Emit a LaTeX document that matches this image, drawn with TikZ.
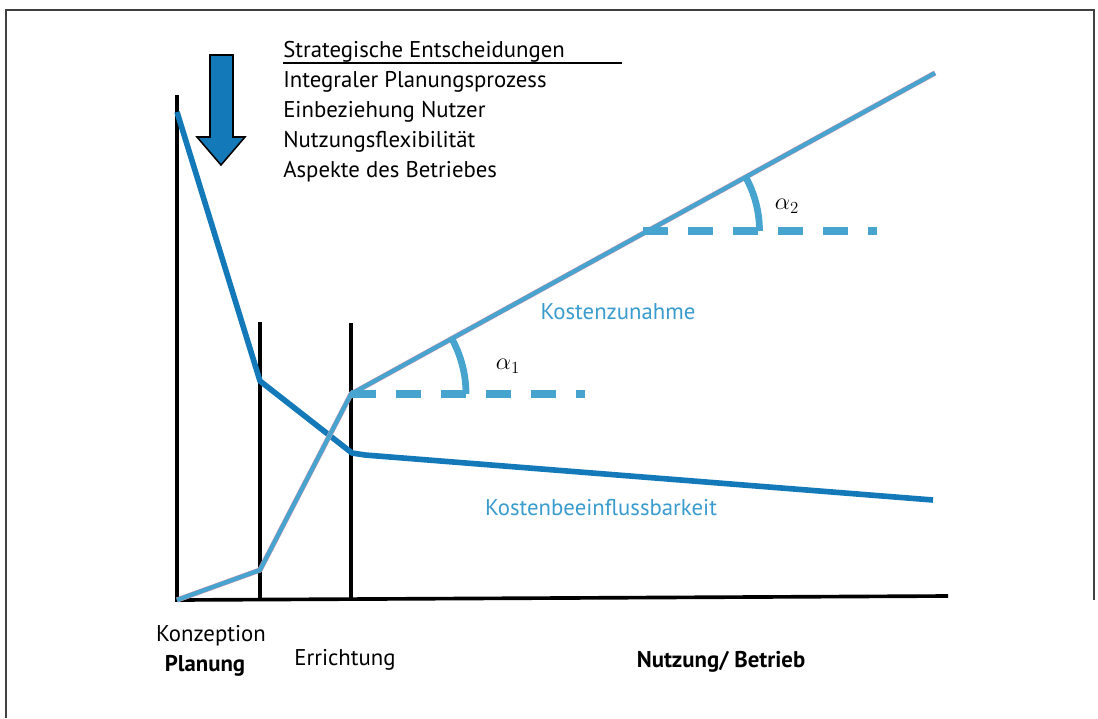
\documentclass[tikz,border=0pt]{standalone}
\usepackage{fontspec}
\setmainfont{PT Sans}
\usepackage{tikz, amsmath}
\usetikzlibrary{positioning}

\definecolor{fallblue}{RGB}{20,121,184}
\definecolor{riseblue}{RGB}{70,164,207}
\definecolor{riseedge}{RGB}{205,150,175}
\definecolor{labelblue}{RGB}{58,156,206}

\tikzset{
	phase/.style={line width=2.6pt, black},
	rise/.style={line width=3pt, riseblue, line join=round, preaction={draw, riseedge, line width=3.7pt, line join=round}},
	fall/.style={line width=4pt, fallblue, line join=round},
	level/.style={line width=5pt, riseblue, dash pattern=on 6.25mm off 5mm},
	wedge/.style={line width=4.8pt, riseblue},
	listtext/.style={anchor=base west, inner sep=0pt, font=\fontsize{16.2}{18}\selectfont},
	curvelabel/.style={text=labelblue, inner sep=0pt, font=\fontsize{16.2}{18}\selectfont},
	phaselabel/.style={inner sep=0pt, font=\fontsize{16.2}{18}\selectfont}
}

\begin{document}
\begin{tikzpicture}[x=0.25mm, y=-0.25mm]

	\useasboundingbox (0,0) rectangle (1098,718);

	% frame
	\draw[line width=1.4pt, black!75] (6,718) -- (6,10) -- (1094,10) -- (1094,600);

	% points of the two curves
	\coordinate (origin) at (177,600);
	\coordinate (risea) at (260,570);
	\coordinate (riseb) at (351,394);
	\coordinate (riseend) at (935,73);
	\coordinate (falltop) at (177,112);
	\coordinate (falla) at (260,381);
	\coordinate (fallb) at (352,453);
	\coordinate (fallend) at (933,500);
	\coordinate (axisend) at (948,596);

	% axes and phase borders
	\draw[phase] (177,95) -- (origin) -- (axisend);
	\foreach \x/\top in {260/322, 351/323}
	{
		\draw[phase] (\x,\top) -- (\x,600);
	}

	% Kostenbeeinflussbarkeit
	\draw[fall] (falltop) -- (falla) -- (fallb) -- (365,455) -- (fallend);

	% Kostenzunahme
	\draw[rise] (origin) -- (risea) -- (riseb) -- (riseend);

	% angles
	\coordinate (levela) at (585,394);
	\coordinate (levelbstart) at (643,231);
	\coordinate (levelb) at (877,231);
	\coordinate (apexb) at (647.5,231);
	\draw[level] (riseb) -- (levela);
	\draw[level] (levelbstart) -- (levelb);
	\draw[wedge] (riseb) ++(28.75mm,0) arc[start angle=0, end angle=28.8, radius=28.75mm];
	\draw[wedge] (apexb) ++(28mm,0) arc[start angle=0, end angle=28.8, radius=28mm];
	\node[font=\fontsize{18}{20}\selectfont] (alphaa) at (508,366) {$\alpha_1$};
	\node[font=\fontsize{18}{20}\selectfont] (alphab) at (787,206) {$\alpha_2$};

	% curve labels
	\node[curvelabel] (zunahme) at (618,312) {Kostenzunahme};
	\node[curvelabel] (einfluss) at (601,508) {Kostenbeeinflussbarkeit};

	% arrow
	\filldraw[fill=fallblue, draw=black, line width=1.1pt, line join=miter]
		(210,55) -- (233,55) -- (233,137) -- (245,137) -- (221,165) -- (197,137) -- (210,137) -- cycle;

	% list
	\node[listtext] (head) at (283,57) {Strategische Entscheidungen};
	\coordinate (ulstart) at (283,63);
	\coordinate (ulend) at (622,63);
	\draw[line width=1.5pt] (ulstart) -- (ulend);
	\foreach \txt [count=\i] in {Integraler Planungsprozess, Einbeziehung Nutzer, Nutzungsflexibilit\"at, Aspekte des Betriebes}
	{
		\node[listtext] (item\i) at (283,57+30*\i) {\txt};
	}

	% phases
	\node[phaselabel] (konzeption) at (211,636) {Konzeption};
	\node[phaselabel, font=\fontsize{16.2}{18}\selectfont\bfseries] (planung) at (205,666) {Planung};
	\node[phaselabel] (errichtung) at (345,660) {Errichtung};
	\node[phaselabel, font=\fontsize{16.2}{18}\selectfont\bfseries] (nutzung) at (721,662) {Nutzung/ Betrieb};

\end{tikzpicture}
\end{document}
